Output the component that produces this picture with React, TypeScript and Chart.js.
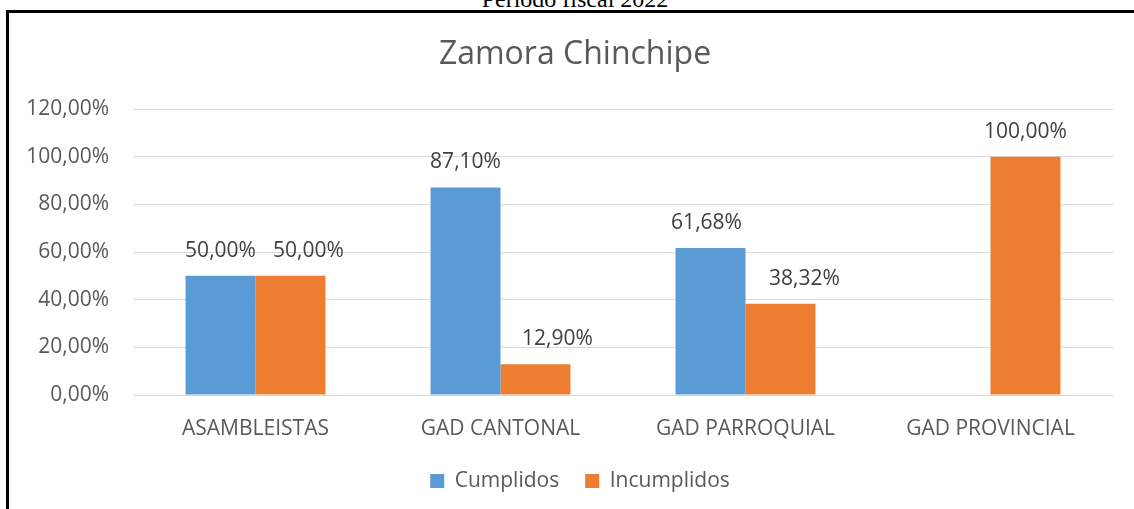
import React, { useEffect, useRef } from "react";
import { Chart, registerables } from "chart.js";

Chart.register(...registerables);

const categories = ["ASAMBLEISTAS", "GAD CANTONAL", "GAD PARROQUIAL", "GAD PROVINCIAL"];
const cumplidos = [50.0, 87.1, 61.68, 0];
const incumplidos = [50.0, 12.9, 38.32, 100.0];
const cumplidosLabelDx = [0, 0, -4, 0];
const incumplidosLabelDx = [18, 22, 24, 0];
const yTicks = [0, 20, 40, 60, 80, 100, 120];

const fmt = (v: number) => v.toFixed(2).replace(".", ",") + "%";

const FONT = "'Open Sans', 'Noto Sans', sans-serif";

const dataLabelPlugin = {
  id: "dataLabels",
  afterDatasetsDraw(chart: any) {
    const ctx = chart.ctx;
    ctx.save();
    ctx.font = `21px ${FONT}`;
    ctx.fillStyle = "#404040";
    ctx.textAlign = "center";
    ctx.textBaseline = "middle";
    chart.data.datasets.forEach((ds: any, di: number) => {
      const meta = chart.getDatasetMeta(di);
      const dxs = di === 0 ? cumplidosLabelDx : incumplidosLabelDx;
      meta.data.forEach((bar: any, i: number) => {
        const v = ds.data[i];
        if (!v) return;
        ctx.fillText(fmt(v), bar.x + dxs[i], bar.y - 25);
      });
    });
    ctx.restore();
  },
};

const shiftPlugin = {
  id: "shiftBoxes",
  afterLayout(chart: any) {
    const t = chart.titleBlock;
    if (t) {
      t.left += 14;
      t.right += 14;
    }
    const l = chart.legend;
    if (l) {
      l.left += 19;
      l.right += 19;
    }
  },
};

export default function App() {
  const ref = useRef<HTMLCanvasElement | null>(null);
  useEffect(() => {
    if (!ref.current) return;
    const chart = new Chart(ref.current, {
      type: "bar",
      data: {
        labels: categories,
        datasets: [
          {
            label: "Cumplidos",
            data: cumplidos,
            backgroundColor: "#5B9BD5",
            categoryPercentage: 0.571,
            barPercentage: 1.0,
          },
          {
            label: "Incumplidos",
            data: incumplidos,
            backgroundColor: "#ED7D31",
            categoryPercentage: 0.571,
            barPercentage: 1.0,
          },
        ],
      },
      options: {
        responsive: false,
        animation: false,
        layout: { padding: { left: 0, right: 21, top: 0, bottom: 7.5 } },
        plugins: {
          title: {
            display: true,
            text: "Zamora Chinchipe",
            color: "#595959",
            font: { family: FONT, size: 32, weight: "normal" },
            padding: { top: 23, bottom: 34.6 },
          },
          legend: {
            position: "bottom",
            labels: {
              boxWidth: 14,
              boxHeight: 14,
              padding: 26,
              color: "#595959",
              font: { family: FONT, size: 21 },
            },
          },
          tooltip: { enabled: false },
        },
        scales: {
          x: {
            grid: { display: false },
            border: { display: false },
            ticks: {
              color: "#595959",
              font: { family: FONT, size: 21 },
              padding: 13,
              maxRotation: 0,
            },
            afterFit(scale: any) {
              scale.height = 49.5;
            },
          },
          y: {
            min: 0,
            max: 120,
            afterBuildTicks(scale: any) {
              scale.ticks = yTicks.map((v) => ({ value: v }));
            },
            grid: { color: "#D9D9D9", lineWidth: 1, drawTicks: false },
            border: { display: false },
            ticks: {
              color: "#595959",
              font: { family: FONT, size: 21 },
              padding: 24,
              callback: (v: any) => fmt(Number(v)),
            },
            afterFit(scale: any) {
              scale.width = 124;
            },
          },
        },
      },
      plugins: [dataLabelPlugin, shiftPlugin],
    });
    return () => chart.destroy();
  }, []);

  return (
    <div style={{ position: "absolute", left: 0, top: 0, width: 1134, height: 509, overflow: "hidden", background: "#fff" }}>
      <div
        style={{
          position: "absolute",
          left: 0,
          width: 1150,
          top: -13,
          textAlign: "center",
          fontFamily: "'Liberation Serif', 'Times New Roman', serif",
          fontSize: 24,
          lineHeight: "24px",
          color: "#000",
          whiteSpace: "nowrap",
        }}
      >
        Período fiscal 2022
      </div>
      <div
        style={{
          position: "absolute",
          left: 6,
          top: 10,
          width: 1200,
          height: 600,
          borderLeft: "3px solid #000",
          borderTop: "3px solid #000",
        }}
      />
      <canvas
        ref={ref}
        width={1125}
        height={496}
        style={{ position: "absolute", left: 9, top: 13, width: 1125, height: 496 }}
      />
    </div>
  );
}
